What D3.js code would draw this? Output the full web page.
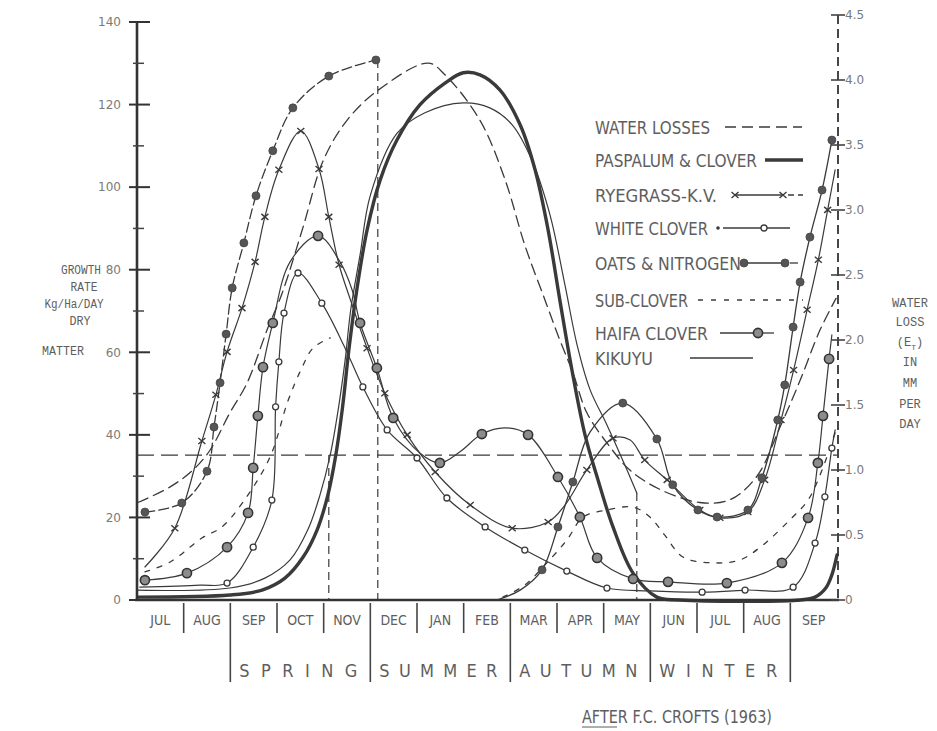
<!DOCTYPE html>
<html><head><meta charset="utf-8">
<script src="https://cdn.jsdelivr.net/npm/d3@7"></script>
<style>body{margin:0;background:#fff}svg{display:block}</style>
</head><body>
<svg id="c" width="937" height="731"></svg>
<script>
// ---------- DATA ----------
const months = ["JUL","AUG","SEP","OCT","NOV","DEC","JAN","FEB","MAR","APR","MAY","JUN","JUL","AUG","SEP"];
const seasons = ["SPRING","SUMMER","AUTUMN","WINTER"];
const seasonStarts = [2,5,8,11,14];
const leftMajor = [0,20,40,60,80,100,120,140];
const leftMinor = [10,30,50,70,90,110,130];
const rightTicks = [0,0.5,1,1.5,2,2.5,3,3.5,4,4.5];
// month position (0 = start of July), value (kg/ha/day unless noted)
const waterLoss = [[0.02,0.75],[0.71,0.87],[1.2,1.0],[1.56,1.15],[1.99,1.44],[2.36,1.67],[2.79,2.08],[3.11,2.36],[3.56,2.87],[3.99,3.38],[4.5,3.69],[5.16,3.92],[6.24,4.13],[6.6,4.04],[7.35,3.69],[7.89,3.23],[8.31,2.73],[8.74,2.31],[9.06,2.0],[9.34,1.75],[9.64,1.44],[10.13,1.18],[10.56,1.0],[11.21,0.85],[12.06,0.75],[12.7,0.77],[13.28,0.95],[13.78,1.33],[14.21,1.69],[14.64,2.08],[14.98,2.32]]; // mm/day
const paspalum = [[0.02,0.7],[1.99,1.2],[2.68,2.4],[3.17,5.3],[3.56,10.4],[3.86,17.0],[4.09,25.4],[4.26,35.1],[4.41,47.2],[4.54,60.6],[4.71,75.1],[4.93,89.6],[5.21,101.7],[5.57,111.4],[6.06,119.9],[6.6,125.2],[6.99,127.7],[7.35,127.2],[7.78,123.5],[8.21,115.1],[8.53,104.2],[8.81,89.6],[9.06,72.7],[9.32,55.7],[9.6,40.0],[9.86,29.8],[10.2,17.7],[10.63,6.5],[11.14,0.7],[11.63,0],[14.21,0],[14.53,0.7],[14.76,2.9],[14.89,6.1],[15.0,10.9]];
const ryegrass = [[0.17,8.0,0],[0.81,17.4,1],[1.39,38.5,1],[1.69,49.7,1],[1.93,60.1,1],[2.25,70.7,1],[2.53,81.9,1],[2.74,92.8,1],[3.04,104.2,1],[3.51,113.6,1],[3.9,104.4,1],[4.11,92.8,1],[4.33,81.2,1],[4.61,71.5,0],[4.93,61.0,1],[5.31,50.1,1],[5.79,40.0,1],[6.39,31.0,1],[7.14,23.0,1],[8.04,17.4,1],[8.81,18.9,1],[9.17,23.0,0],[9.64,31.5,1],[10.2,39.2,1],[10.56,38.8,0],[10.88,33.9,1],[11.36,29.1,1],[12.06,21.8,1],[12.49,19.9,1],[13.09,21.3,1],[13.45,29.1,1],[13.8,43.6,1],[14.07,55.7,1],[14.36,70.3,1],[14.6,82.4,1],[14.8,94.5,1],[14.96,104.2,0]];
const whiteClover = [[0.06,3.1,0],[1.35,3.6,0],[1.93,4.1,1],[2.49,12.8,1],[2.89,24.2,1],[2.97,46.8,1],[3.04,57.7,1],[3.15,69.5,1],[3.45,79.2,1],[3.96,71.9,1],[4.46,61.0,0],[4.84,51.6,1],[5.36,41.2,1],[6.0,34.4,1],[6.64,24.7,1],[7.46,17.7,1],[8.31,12.1,1],[9.21,7.0,1],[10.07,2.9,1],[10.99,2.2,0],[12.11,1.9,1],[13.03,2.4,1],[14.06,3.1,1],[14.53,13.8,1],[14.74,25.0,1],[14.89,36.8,1],[14.96,41.2,0]];
const oatsSpring = [[0.17,21.3,1],[0.96,23.5,1],[1.5,31.2,1],[1.65,41.9,1],[1.78,52.6,1],[1.91,64.4,1],[2.04,75.6,1],[2.29,86.5,1],[2.55,97.9,1],[2.91,108.8,1],[3.34,119.2,1],[4.11,126.9,1],[5.12,130.8,1]];
const oatsAutumn = [[7.71,0,0],[8.21,2.4,0],[8.68,7.3,1],[9.02,17.7,1],[9.34,28.6,1],[9.71,40.7,0],[10.41,47.7,1],[11.14,39.0,1],[11.48,27.9,1],[12.02,21.8,1],[12.43,20.1,1],[13.09,21.8,1],[13.39,29.6,1],[13.73,43.6,1],[13.88,52.1,1],[14.06,66.1,1],[14.21,77.0,1],[14.42,87.9,1],[14.68,99.3,1],[14.89,111.4,1]];
const subCloverSpring = [[0.17,6.8],[0.71,9.2],[1.39,15.0],[1.82,17.7],[2.27,23.7],[2.85,34.6],[3.24,48.4],[3.54,56.4],[3.77,61.0],[4.14,63.5]];
const subCloverAutumn = [[7.84,0.7],[8.31,3.6],[8.74,8.5],[9.21,14.5],[9.56,20.1],[10.07,21.8],[10.63,22.5],[10.99,20.1],[11.31,15.7],[11.7,10.4],[12.34,9.0],[12.92,9.7],[13.41,13.3],[13.99,19.4],[14.38,24.2],[14.68,31.5],[14.98,41.2]];
const haifa = [[0.17,4.8,1],[1.07,6.5,1],[1.93,12.8,1],[2.38,21.1,1],[2.49,32.0,1],[2.59,44.6,1],[2.7,56.4,1],[2.91,67.1,1],[3.28,81.9,0],[3.88,88.2,1],[4.35,81.9,0],[4.61,75.1,0],[4.78,67.1,1],[5.14,56.2,1],[5.49,44.1,1],[6.06,35.6,0],[6.49,33.2,1],[6.92,35.9,0],[7.39,40.2,1],[7.89,41.7,0],[8.38,40.0,1],[9.02,29.8,1],[9.49,20.1,1],[9.86,10.2,1],[10.63,5.1,1],[11.38,4.4,1],[12.64,4.1,1],[13.82,9.0,1],[14.38,19.9,1],[14.59,33.2,1],[14.7,44.6,1],[14.83,58.4,1],[14.89,64.2,0]];
const kikuyu = [[0.02,2.4],[1.99,2.9],[2.74,5.3],[3.28,9.7],[3.66,17.0],[3.92,25.4],[4.14,35.1],[4.31,46.0],[4.46,58.1],[4.58,70.3],[4.78,83.6],[5.0,98],[5.57,113],[6.17,118],[6.99,120.4],[7.56,119.2],[8.04,115.1],[8.46,106.6],[8.85,93.3],[9.17,76.3],[9.43,61.8],[9.71,50.9],[10.07,42.4],[10.5,31.5],[10.71,25.9]];
const refLevel = 35.1;
const dropLines = [[5.16,130.8],[4.11,35.1],[10.71,25.9]];
const legendLabels = ["WATER LOSSES","PASPALUM & CLOVER","RYEGRASS-K.V.","WHITE CLOVER","OATS & NITROGEN","SUB-CLOVER","HAIFA CLOVER","KIKUYU"];

// ---------- DRAW ----------
const svg = d3.select("#c");
const ink = "#3a3a3a", txt = "#5e5e5e", light = "#7a7a7a";
const NARROW = "'Liberation Sans Narrow','DejaVu Sans Condensed',sans-serif";
const MONO = "'Liberation Mono','DejaVu Sans Mono',monospace";
const SANS = "'DejaVu Sans',sans-serif";

const x = d3.scaleLinear().domain([0,15]).range([137,837]);
const yL = d3.scaleLinear().domain([0,140]).range([600,22]);
const yR = d3.scaleLinear().domain([0,4.5]).range([600,15]);

// reference lines
svg.append("line").attr("x1",x(0)).attr("x2",x(15)).attr("y1",yL(refLevel)).attr("y2",yL(refLevel))
  .attr("stroke",ink).attr("stroke-width",1.3).attr("stroke-dasharray","17,7");
dropLines.forEach(([t,v])=>{
  svg.append("line").attr("x1",x(t)).attr("x2",x(t)).attr("y1",yL(v)).attr("y2",yL(0))
    .attr("stroke",ink).attr("stroke-width",1.2).attr("stroke-dasharray","8,5");
});

const gen = ys => d3.line().x(d=>x(d[0])).y(d=>ys(d[1])).curve(d3.curveCatmullRom.alpha(0.5));
function drawLine(data, ys, w, dash){
  const p = svg.append("path").attr("d",gen(ys)(data)).attr("fill","none")
    .attr("stroke",ink).attr("stroke-width",w).attr("stroke-linejoin","round").attr("stroke-linecap","round");
  if (dash) p.attr("stroke-dasharray",dash);
}
function marker(type,cx,cy){
  if (type==="x") {
    svg.append("path").attr("d",`M${cx-3.5},${cy-3}L${cx+3.5},${cy+3}M${cx-3.5},${cy+3}L${cx+3.5},${cy-3}`)
      .attr("stroke",ink).attr("stroke-width",1.4);
  } else if (type==="o") {
    svg.append("circle").attr("cx",cx).attr("cy",cy).attr("r",3).attr("fill","#fff").attr("stroke",ink).attr("stroke-width",1.3);
  } else if (type==="dot") {
    svg.append("circle").attr("cx",cx).attr("cy",cy).attr("r",4).attr("fill","#555").attr("stroke","#444").attr("stroke-width",0.8);
  } else if (type==="half") {
    svg.append("circle").attr("cx",cx).attr("cy",cy).attr("r",4.6).attr("fill","#8c8c8c").attr("stroke","#333").attr("stroke-width",1.6);
  }
}
function drawMarkers(data, ys, type){
  data.filter(d=>d[2]).forEach(d=>marker(type,x(d[0]),ys(d[1])));
}

drawLine(waterLoss, yR, 1.3, "11,6");
drawLine(subCloverSpring, yL, 1.3, "5,8");
drawLine(subCloverAutumn, yL, 1.3, "5,8");
drawLine(kikuyu, yL, 1.2);
drawLine(whiteClover, yL, 1.2);
drawLine(haifa, yL, 1.2);
drawLine(ryegrass, yL, 1.2);
drawLine(oatsSpring, yL, 1.3, "10,4");
drawLine(oatsAutumn, yL, 1.3);
drawLine(paspalum, yL, 3.4);
drawMarkers(whiteClover, yL, "o");
drawMarkers(haifa, yL, "half");
drawMarkers(ryegrass, yL, "x");
drawMarkers(oatsSpring, yL, "dot");
drawMarkers(oatsAutumn, yL, "dot");

// ---------- AXES ----------
// left axis
svg.append("line").attr("x1",x(0)).attr("x2",x(0)).attr("y1",yL(140)).attr("y2",yL(0)).attr("stroke","#333").attr("stroke-width",2.6);
leftMajor.forEach(v=>svg.append("line").attr("x1",x(0)-8).attr("x2",x(0)+13).attr("y1",yL(v)).attr("y2",yL(v)).attr("stroke","#333").attr("stroke-width",2));
leftMinor.forEach(v=>svg.append("line").attr("x1",x(0)-4).attr("x2",x(0)+7).attr("y1",yL(v)).attr("y2",yL(v)).attr("stroke","#444").attr("stroke-width",1.5));
const gl = svg.append("g").attr("transform",`translate(${x(0)},0)`)
  .call(d3.axisLeft(yL).tickValues(leftMajor).tickSize(0).tickPadding(16).tickFormat(d3.format("d")));
gl.select(".domain").remove();
gl.selectAll("text").attr("font-family",SANS).attr("font-size",12).attr("fill",light);

// bottom axis line
svg.append("line").attr("x1",x(0)-2).attr("x2",x(15)+2).attr("y1",yL(0)).attr("y2",yL(0)).attr("stroke","#333").attr("stroke-width",2.6);

// right axis
svg.append("line").attr("x1",x(15)+1).attr("x2",x(15)+1).attr("y1",yR(4.5)).attr("y2",yR(0))
  .attr("stroke","#333").attr("stroke-width",1.8).attr("stroke-dasharray","9,5");
rightTicks.forEach(v=>svg.append("line").attr("x1",x(15)-6).attr("x2",x(15)+8).attr("y1",yR(v)).attr("y2",yR(v)).attr("stroke","#444").attr("stroke-width",1.6));
const gr = svg.append("g").attr("transform",`translate(${x(15)+1},0)`)
  .call(d3.axisRight(yR).tickValues(rightTicks).tickSize(0).tickPadding(7).tickFormat(d=>d===0?"0":d3.format(".1f")(d)));
gr.select(".domain").remove();
gr.selectAll("text").attr("font-family",SANS).attr("font-size",12).attr("fill",light);

// month dividers and labels
d3.range(1,15).forEach(i=>{
  const tall = seasonStarts.includes(i);
  svg.append("line").attr("x1",x(i)).attr("x2",x(i)).attr("y1",yL(0)+3).attr("y2",tall?682:633)
    .attr("stroke","#444").attr("stroke-width",1.6);
});
months.forEach((m,i)=>{
  svg.append("text").attr("x",x(i+0.5)).attr("y",625).attr("text-anchor","middle")
    .attr("font-family",NARROW).attr("font-size",14).attr("fill",txt).text(m);
});
seasons.forEach((s,i)=>{
  const a = x(seasonStarts[i]), b = x(seasonStarts[i+1]);
  svg.append("text").attr("x",a+9).attr("y",677).attr("font-family",NARROW).attr("font-size",18)
    .attr("fill",txt).attr("textLength",b-a-22).attr("lengthAdjust","spacing").text(s.split("").join(" "));
});

// axis titles
const leftTitle = [["GROWTH",81,274,40],["RATE",84,291,27],["Kg/Ha/DAY",74,308,59],["DRY",80,325,21],["MATTER",63,355,42]];
leftTitle.forEach(([s,cx,cy,len])=>svg.append("text").attr("x",cx).attr("y",cy).attr("text-anchor","middle")
  .attr("font-family",MONO).attr("font-size",12.5).attr("fill",txt)
  .attr("textLength",len).attr("lengthAdjust","spacingAndGlyphs").text(s));
const rightTitle = [["WATER",307],["LOSS",326],["(E_T)",346],["IN",366],["MM",387],["PER",408],["DAY",428]];
rightTitle.forEach(([s,cy])=>{
  const t = svg.append("text").attr("x",910).attr("y",cy).attr("text-anchor","middle")
    .attr("font-family",MONO).attr("font-size",12).attr("fill",txt);
  if (s==="(E_T)") {
    t.append("tspan").text("(E");
    t.append("tspan").attr("dy",4).attr("font-size",8).text("T");
    t.append("tspan").attr("dy",-4).text(")");
  } else t.text(s);
});

// ---------- LEGEND ----------
const legY = [127,160,195,228,263,300,333,358];
const legLen = [115,162,122,113,146,93,113,58];
legendLabels.forEach((s,i)=>{
  svg.append("text").attr("x",595).attr("y",legY[i]+6.5).attr("font-family",NARROW).attr("font-size",17)
    .attr("fill",txt).attr("textLength",legLen[i]).attr("lengthAdjust","spacingAndGlyphs").text(s);
});
function seg(x1,x2,y,w,dash){
  const l = svg.append("line").attr("x1",x1).attr("x2",x2).attr("y1",y).attr("y2",y).attr("stroke",ink).attr("stroke-width",w);
  if (dash) l.attr("stroke-dasharray",dash);
}
seg(725,802,legY[0],1.4,"11,6");
seg(765,803,legY[1],3.6);
seg(735,782,legY[2],1.3); seg(788,803,legY[2],1.3,"6,4"); marker("x",735,legY[2]); marker("x",783,legY[2]);
seg(723,790,legY[3],1.3); svg.append("circle").attr("cx",718).attr("cy",legY[3]).attr("r",1.8).attr("fill",ink); marker("o",764,legY[3]);
seg(745,785,legY[4],1.3); seg(790,798,legY[4],1.3); marker("dot",744,legY[4]); marker("dot",785,legY[4]);
seg(698,803,legY[5],1.4,"5,8");
seg(720,753,legY[6],1.3); seg(763,774,legY[6],1.3); marker("half",758,legY[6]);
seg(690,753,legY[7],1.6);

// source
svg.append("text").attr("x",582).attr("y",723).attr("font-family",NARROW).attr("font-size",17)
  .attr("fill",txt).attr("textLength",190).attr("lengthAdjust","spacingAndGlyphs").text("AFTER F.C. CROFTS (1963)");
svg.append("line").attr("x1",582).attr("x2",617).attr("y1",727).attr("y2",727).attr("stroke",txt).attr("stroke-width",1.2);
</script>
</body></html>
